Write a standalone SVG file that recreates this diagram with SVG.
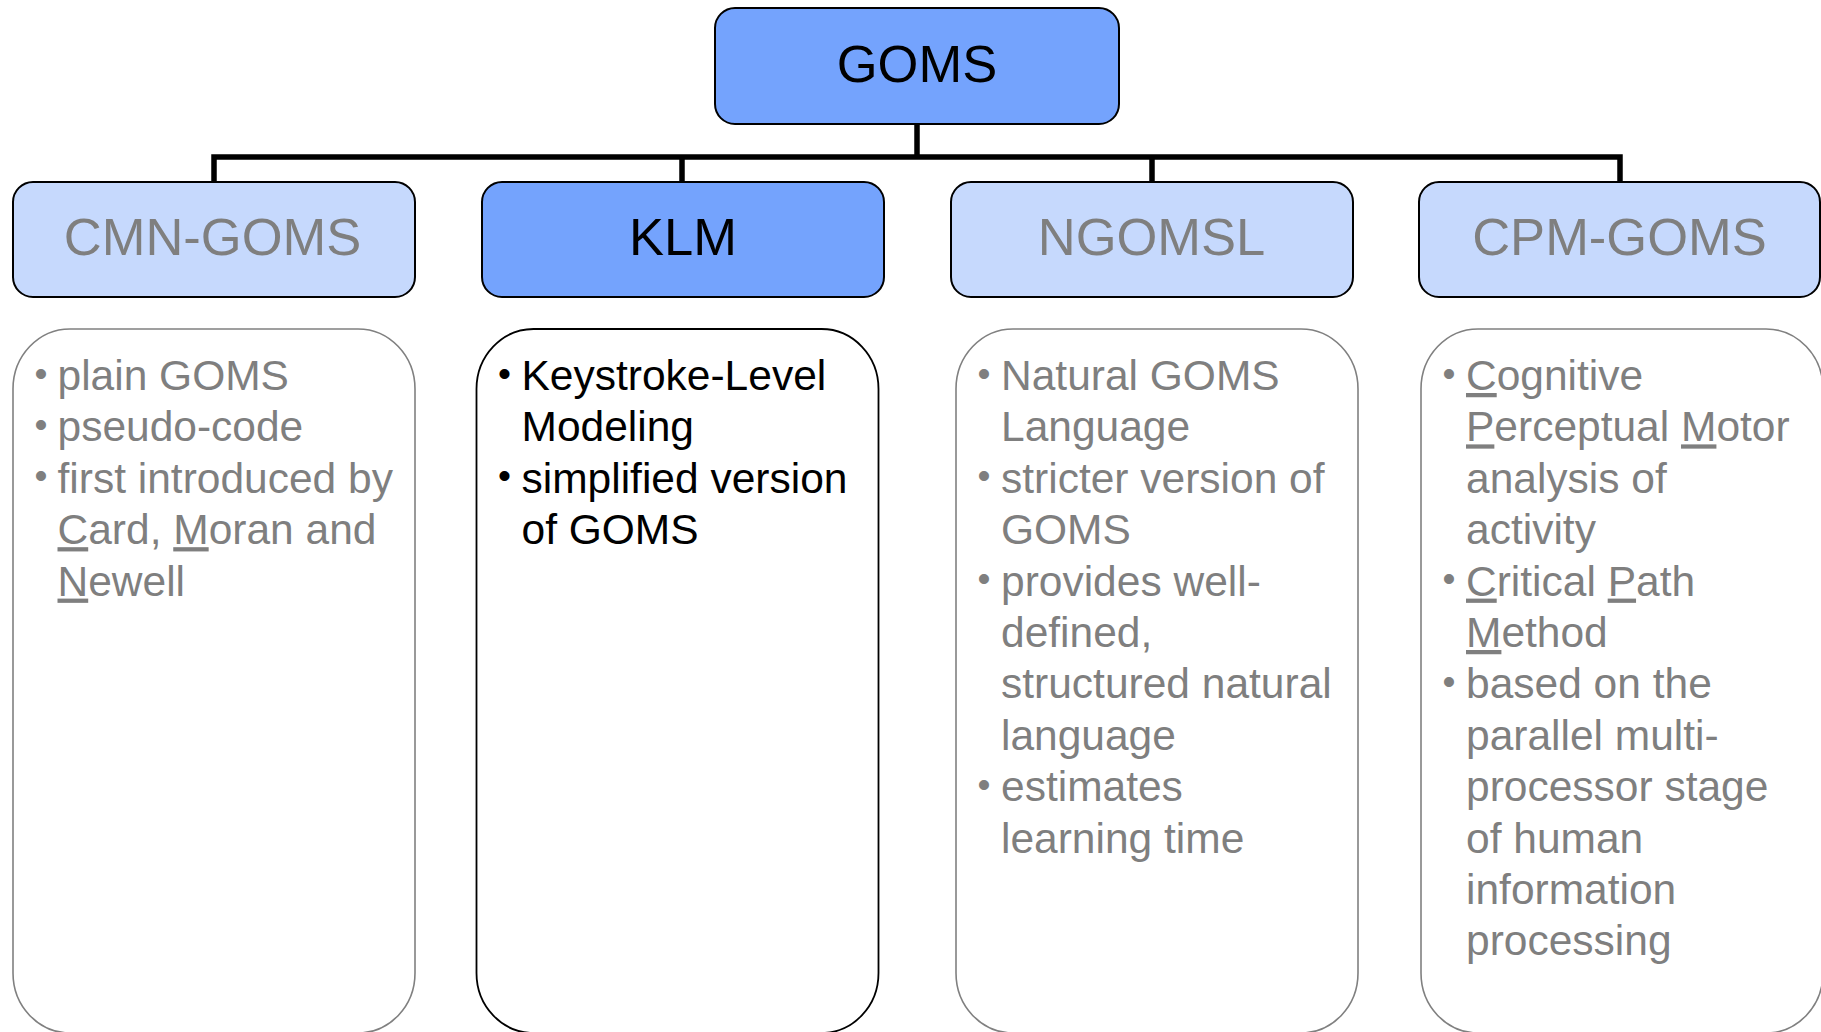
<svg xmlns="http://www.w3.org/2000/svg" width="1821" height="1032" viewBox="0 0 1821 1032">
  <style>
    .hdr-dark { fill: #74A3FD; stroke: #000; stroke-width: 2; }
    .hdr-light { fill: #C6D9FD; stroke: #000; stroke-width: 2; }
    .detail { fill: #fff; stroke: #808080; stroke-width: 1.6; }
    .detail-dark { fill: #fff; stroke: #000; stroke-width: 1.8; }
    .title { font-family: "Liberation Sans", Arial, sans-serif; font-size: 52.5px; text-anchor: middle; }
    .body { font-family: "Liberation Sans", Arial, sans-serif; font-size: 42.5px; }
    .bul { font-family: "Liberation Sans", Arial, sans-serif; font-size: 37px; }
    .gray { fill: #7F7F7F; }
    .black { fill: #000; }
    .u { text-decoration: underline; }
    .wire { fill: none; stroke: #000; stroke-width: 5.5; stroke-linejoin: miter; }
  </style>

  <!-- tree connectors -->
  <g id="connectors">
    <path class="wire" d="M917,124 V157"/>
    <path class="wire" d="M214,182 V157 H1620 V182"/>
    <path class="wire" d="M682,157 V182"/>
    <path class="wire" d="M1152,157 V182"/>
  </g>

  <!-- root -->
  <g id="goms">
    <rect class="hdr-dark" x="715" y="8" width="404" height="116" rx="20" ry="20"/>
    <text class="title black" x="917" y="82">GOMS</text>
  </g>

  <!-- CMN-GOMS -->
  <g id="cmn-goms">
    <rect class="hdr-light" x="13" y="182" width="402" height="115" rx="20" ry="20"/>
    <text class="title gray" x="212.5" y="254.5">CMN-GOMS</text>
  </g>
  <g id="cmn-goms-notes">
    <rect class="detail" x="13" y="329" width="402" height="704" rx="57" ry="60"/>
    <g class="gray">
      <text class="bul" x="34.5" y="385.5">•</text>
      <text class="bul" x="34.5" y="436.9">•</text>
      <text class="bul" x="34.5" y="488.3">•</text>
      <text class="body" x="57.5" y="390">plain GOMS</text>
      <text class="body" x="57.5" y="441.4">pseudo-code</text>
      <text class="body" x="57.5" y="492.8">first introduced by</text>
      <text class="body" x="57.5" y="544.2"><tspan class="u">C</tspan>ard, <tspan class="u">M</tspan>oran and</text>
      <text class="body" x="57.5" y="595.6"><tspan class="u">N</tspan>ewell</text>
    </g>
  </g>

  <!-- KLM -->
  <g id="klm">
    <rect class="hdr-dark" x="482" y="182" width="402" height="115" rx="20" ry="20"/>
    <text class="title black" x="683" y="254.5">KLM</text>
  </g>
  <g id="klm-notes">
    <rect class="detail-dark" x="476.5" y="329" width="402" height="704" rx="57" ry="60"/>
    <g class="black">
      <text class="bul" x="498" y="385.5">•</text>
      <text class="bul" x="498" y="488.3">•</text>
      <text class="body" x="521.5" y="390">Keystroke-Level</text>
      <text class="body" x="521.5" y="441.4">Modeling</text>
      <text class="body" x="521.5" y="492.8">simplified version</text>
      <text class="body" x="521.5" y="544.2">of GOMS</text>
    </g>
  </g>

  <!-- NGOMSL -->
  <g id="ngomsl">
    <rect class="hdr-light" x="951" y="182" width="402" height="115" rx="20" ry="20"/>
    <text class="title gray" x="1151.5" y="254.5">NGOMSL</text>
  </g>
  <g id="ngomsl-notes">
    <rect class="detail" x="956" y="329" width="402" height="704" rx="57" ry="60"/>
    <g class="gray">
      <text class="bul" x="977.5" y="385.5">•</text>
      <text class="bul" x="977.5" y="488.3">•</text>
      <text class="bul" x="977.5" y="591.1">•</text>
      <text class="bul" x="977.5" y="796.7">•</text>
      <text class="body" x="1001" y="390">Natural GOMS</text>
      <text class="body" x="1001" y="441.4">Language</text>
      <text class="body" x="1001" y="492.8">stricter version of</text>
      <text class="body" x="1001" y="544.2">GOMS</text>
      <text class="body" x="1001" y="595.6">provides well-</text>
      <text class="body" x="1001" y="647">defined,</text>
      <text class="body" x="1001" y="698.4">structured natural</text>
      <text class="body" x="1001" y="749.8">language</text>
      <text class="body" x="1001" y="801.2">estimates</text>
      <text class="body" x="1001" y="852.6">learning time</text>
    </g>
  </g>

  <!-- CPM-GOMS -->
  <g id="cpm-goms">
    <rect class="hdr-light" x="1419" y="182" width="401" height="115" rx="20" ry="20"/>
    <text class="title gray" x="1619.5" y="254.5">CPM-GOMS</text>
  </g>
  <g id="cpm-goms-notes">
    <rect class="detail" x="1421" y="329" width="402" height="704" rx="57" ry="60"/>
    <g class="gray">
      <text class="bul" x="1442.5" y="385.5">•</text>
      <text class="bul" x="1442.5" y="591.1">•</text>
      <text class="bul" x="1442.5" y="693.9">•</text>
      <text class="body" x="1466" y="390"><tspan class="u">C</tspan>ognitive</text>
      <text class="body" x="1466" y="441.4"><tspan class="u">P</tspan>erceptual <tspan class="u">M</tspan>otor</text>
      <text class="body" x="1466" y="492.8">analysis of</text>
      <text class="body" x="1466" y="544.2">activity</text>
      <text class="body" x="1466" y="595.6"><tspan class="u">C</tspan>ritical <tspan class="u">P</tspan>ath</text>
      <text class="body" x="1466" y="647"><tspan class="u">M</tspan>ethod</text>
      <text class="body" x="1466" y="698.4">based on the</text>
      <text class="body" x="1466" y="749.8">parallel multi-</text>
      <text class="body" x="1466" y="801.2">processor stage</text>
      <text class="body" x="1466" y="852.6">of human</text>
      <text class="body" x="1466" y="904">information</text>
      <text class="body" x="1466" y="955.4">processing</text>
    </g>
  </g>
</svg>
